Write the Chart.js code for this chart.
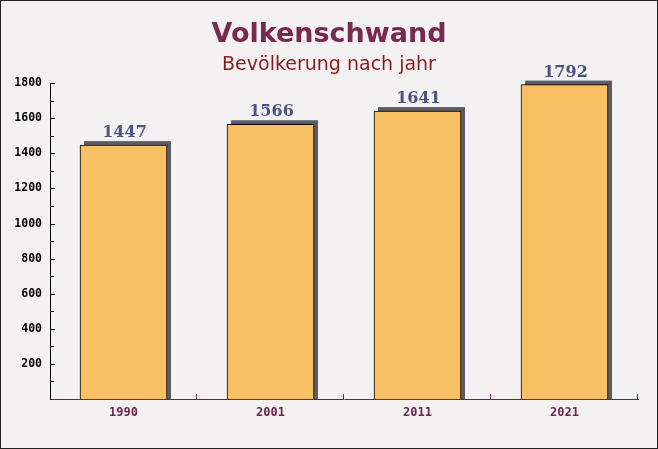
<!DOCTYPE html>
<html>
<head>
<meta charset="utf-8">
<script src="https://cdn.jsdelivr.net/npm/chart.js@4"></script>
<style>
html,body{margin:0;padding:0;background:#f3f0f2}
#wrap{width:658px;height:449px}
</style>
</head>
<body>
<div id="wrap"><canvas id="chart" width="658" height="449"></canvas></div>
<script>
let years=["1990","2001","2011","2021"]
let population=[1447,1566,1641,1792]
let yTicks=[200,400,600,800,1000,1200,1400,1600,1800]

// background, frame, shadows, little ticks, value labels
let decor={
id:"decor",
beforeDraw(chart){
let c=chart.ctx
c.save()
c.fillStyle="#f4f1f3"
c.fillRect(0,0,chart.width,chart.height)
c.restore()
},
beforeDatasetsDraw(chart){
let c=chart.ctx
c.save()
c.fillStyle="#5c5b63"
chart.getDatasetMeta(0).data.forEach(b=>{
let l=b.x-b.width/2
c.fillRect(l+4,b.y-4,b.width,b.base-b.y+4)
})
c.restore()
},
afterDatasetsDraw(chart){
let c=chart.ctx
let a=chart.chartArea
let y=chart.scales.y, x=chart.scales.x
c.save()
// y minor/major ticks pointing inward
c.strokeStyle="#000"
c.lineWidth=1
for(let v=100;v<=1800;v+=100){
let p=Math.round(y.getPixelForValue(v))+0.5
c.beginPath()
c.moveTo(a.left,p)
c.lineTo(a.left+(v%200==0?5:4),p)
c.stroke()
}
// x ticks between categories pointing up
c.strokeStyle="#6b2450"
for(let i=0;i<years.length;i++){
let p=i<years.length-1?(x.getPixelForTick(i)+x.getPixelForTick(i+1))/2:a.right
p=Math.round(p)-0.5
c.beginPath()
c.moveTo(p,a.bottom)
c.lineTo(p,a.bottom-5)
c.stroke()
}
// value labels
c.font="bold 16px 'DejaVu Serif'"
c.fillStyle="#4b5382"
c.textAlign="center"
c.textBaseline="alphabetic"
chart.getDatasetMeta(0).data.forEach((b,i)=>{
c.fillText(population[i],b.x+1,b.y-8)
})
// outer frame
c.strokeStyle="#222"
c.strokeRect(0.5,0.5,chart.width-1,chart.height-1)
c.restore()
}
}

let ctx=document.getElementById("chart").getContext("2d")

let chart=new Chart(ctx,{
type:"bar",
data:{
labels:years,
datasets:[{
data:population,
backgroundColor:"rgb(247,192,98)",
borderColor:"#000",
borderWidth:{top:1,left:1,right:1,bottom:0},
borderSkipped:"start",
barThickness:87
}]
},
options:{
responsive:false,
animation:false,
events:[],
layout:{padding:{left:0,right:0,top:0,bottom:20}},
plugins:{
legend:{display:false},
tooltip:{enabled:false},
title:{
display:true,
text:"Volkenschwand",
color:"#77294f",
font:{family:"DejaVu Sans",size:27,weight:"bold",lineHeight:1.2},
padding:{top:19,bottom:0}
},
subtitle:{
display:true,
text:"Bevölkerung nach jahr",
color:"#8b1a1a",
font:{family:"DejaVu Sans",size:19,lineHeight:1.2},
padding:{top:2,bottom:7}
}
},
scales:{
x:{
grid:{display:false,drawTicks:false},
border:{display:true,color:"#6b2450",width:1},
ticks:{
color:"#6b2450",
font:{family:"DejaVu Sans Mono",size:12,weight:"bold"},
padding:7
},
afterFit(s){s.height=30}
},
y:{
min:0,
max:1800,
afterBuildTicks(s){s.ticks=yTicks.map(v=>({value:v}))},
grid:{display:false,drawTicks:false},
border:{display:true,color:"#000",width:1},
ticks:{
color:"#000",
font:{family:"DejaVu Sans Mono",size:11.5,weight:"bold"},
padding:8,
callback:v=>String(v)
},
afterFit(s){s.width=50}
},
// empty strip on the right, keeps the title centred on the canvas
gap:{
type:"linear",
position:"right",
grid:{display:false,drawTicks:false},
border:{display:false},
ticks:{display:false},
afterFit(s){s.width=20}
}
}
},
plugins:[decor]
})
</script>
</body>
</html>
